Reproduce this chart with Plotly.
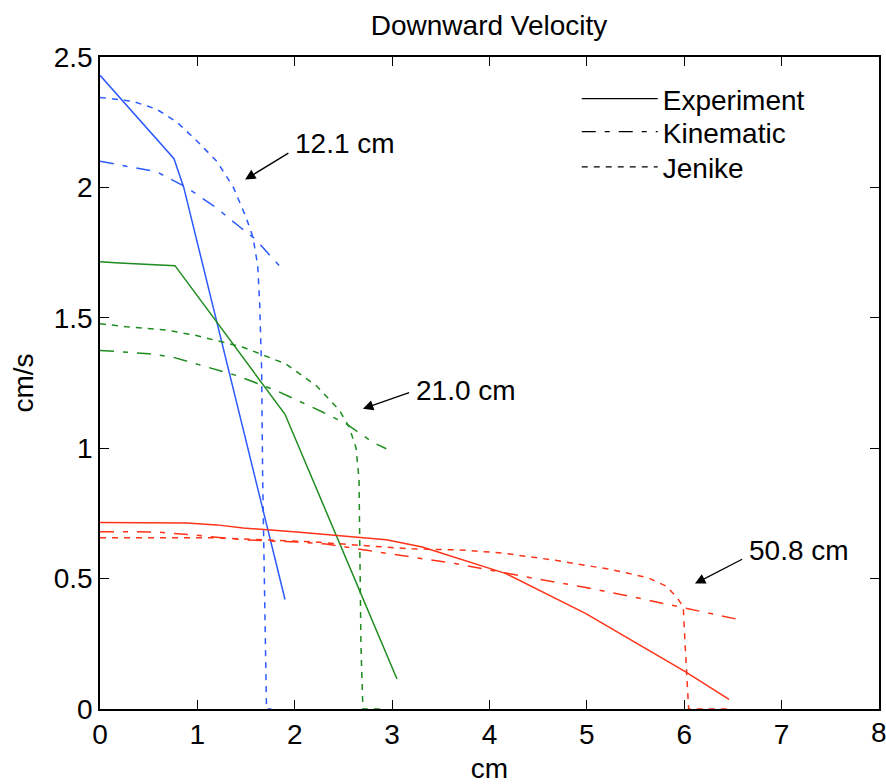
import plotly.graph_objects as go

# Radial profiles of downward velocity at three heights in the bin
# 12.1 cm (blue)
exp_x_121 = [0, 0.76, 0.86, 1.90]
exp_y_121 = [2.43, 2.11, 2.00, 0.42]
kin_x_121 = [0, 0.31, 0.58, 0.89, 1.20, 1.43, 1.60, 1.84]
kin_y_121 = [2.10, 2.08, 2.06, 2.00, 1.92, 1.85, 1.80, 1.70]
jen_x_121 = [0, 0.34, 0.58, 0.79, 0.99, 1.20, 1.37, 1.50, 1.57, 1.62, 1.64, 1.66, 1.67, 1.69, 1.71, 1.76]
jen_y_121 = [2.345, 2.33, 2.30, 2.25, 2.18, 2.10, 2.00, 1.885, 1.81, 1.70, 1.55, 1.30, 0.90, 0.50, 0.0, 0.0]

# 21.0 cm (green)
exp_x_210 = [0, 0.20, 0.77, 1.90, 3.05]
exp_y_210 = [1.715, 1.71, 1.70, 1.13, 0.115]
kin_x_210 = [0, 0.50, 0.75, 0.99, 1.40, 1.81, 2.29, 2.53, 2.80, 2.94]
kin_y_210 = [1.375, 1.362, 1.349, 1.323, 1.279, 1.221, 1.138, 1.093, 1.023, 0.998]
jen_x_210 = [0, 0.27, 0.68, 0.99, 1.47, 1.91, 2.22, 2.46, 2.56, 2.63, 2.66, 2.68, 2.70, 2.90]
jen_y_210 = [1.477, 1.466, 1.453, 1.432, 1.387, 1.323, 1.24, 1.145, 1.08, 1.0, 0.88, 0.24, 0.0, 0.0]

# 50.8 cm (red)
exp_x_508 = [0, 0.89, 1.20, 1.47, 2.02, 2.43, 2.94, 3.31, 4.07, 4.17, 4.99, 6.01, 6.46]
exp_y_508 = [0.715, 0.713, 0.706, 0.694, 0.679, 0.666, 0.649, 0.621, 0.532, 0.519, 0.366, 0.143, 0.037]
kin_x_508 = [0, 0.58, 0.99, 1.47, 2.02, 2.32, 2.80, 3.20, 3.66, 4.47, 4.99, 5.47, 5.87, 6.28, 6.56]
kin_y_508 = [0.68, 0.679, 0.666, 0.649, 0.64, 0.633, 0.605, 0.584, 0.557, 0.50, 0.466, 0.43, 0.398, 0.364, 0.343]
jen_x_508 = [0, 1.13, 1.67, 2.22, 2.80, 3.21, 3.69, 4.13, 4.68, 5.26, 5.63, 5.82, 5.93, 5.99, 6.01, 6.045, 6.50]
jen_y_508 = [0.657, 0.657, 0.649, 0.64, 0.624, 0.614, 0.61, 0.598, 0.57, 0.534, 0.503, 0.47, 0.425, 0.392, 0.238, 0.0, 0.0]

model_names = ["Experiment", "Kinematic", "Jenike"]
height_labels = ["12.1 cm", "21.0 cm", "50.8 cm"]
x_ticks = [0, 1, 2, 3, 4, 5, 6, 7, 8]

FONT = "Liberation Sans, Arial, sans-serif"
FS = 28
DASH = {"Experiment": "solid", "Kinematic": "14px,9px,5px,9px", "Jenike": "6px,6px"}
COLORS = ["#2c5aff", "#1e8c1e", "#ff3318"]

profiles = [
    [(exp_x_121, exp_y_121), (kin_x_121, kin_y_121), (jen_x_121, jen_y_121)],
    [(exp_x_210, exp_y_210), (kin_x_210, kin_y_210), (jen_x_210, jen_y_210)],
    [(exp_x_508, exp_y_508), (kin_x_508, kin_y_508), (jen_x_508, jen_y_508)],
]

fig = go.Figure()
for color, group in zip(COLORS, profiles):
    for name, (xs, ys) in zip(model_names, group):
        fig.add_trace(go.Scatter(
            x=xs, y=ys, mode="lines", showlegend=False, cliponaxis=False,
            line=dict(color=color, width=1.5, dash=DASH[name]),
        ))

# black key entries for the three models, one legend box per row for tight spacing
legend_ids = ["legend", "legend2", "legend3"]
legend_rows = [0.9356, 0.885, 0.831]
for name, lid in zip(model_names, legend_ids):
    fig.add_trace(go.Scatter(
        x=[None], y=[None], mode="lines", name=name, legend=lid,
        line=dict(color="black", width=1.2, dash=DASH[name]),
    ))

legend_style = dict(
    x=0.612, xanchor="left", yanchor="middle",
    bgcolor="rgba(0,0,0,0)", borderwidth=0, itemwidth=76,
    font=dict(family=FONT, size=FS, color="black"),
)

# arrows pointing at each height's profile group: (head_x, head_y, tail_x, tail_y)
arrow_spots = [(1.49, 2.03, 1.95, 2.135), (2.70, 1.151, 3.19, 1.215), (6.11, 0.481, 6.61, 0.577)]
label_lift = [0.035, 0.005, 0.03]
for label, (hx, hy, tx, ty), lift in zip(height_labels, arrow_spots, label_lift):
    fig.add_annotation(
        x=hx, y=hy, ax=tx, ay=ty, xref="x", yref="y", axref="x", ayref="y",
        text="", showarrow=True, arrowhead=2, arrowsize=1.6, arrowwidth=1.3,
        arrowcolor="black",
    )
    fig.add_annotation(
        x=tx + 0.03, y=ty + lift, xref="x", yref="y", text=label, showarrow=False,
        xanchor="left", yanchor="middle",
        font=dict(family=FONT, size=FS, color="black"),
    )

# the last x tick label sits on the figure edge, so it is written explicitly
fig.add_annotation(
    x=x_ticks[-1], y=0, xref="x", yref="y", text=str(x_ticks[-1]), showarrow=False,
    xanchor="center", yanchor="top", yshift=-6,
    font=dict(family=FONT, size=FS, color="black"),
)

axis_common = dict(
    showline=True, linecolor="black", linewidth=1.5, mirror="ticks",
    ticks="inside", ticklen=9, tickwidth=1.3, tickcolor="black",
    showgrid=False, zeroline=False,
    tickfont=dict(family=FONT, size=FS, color="black"),
)

fig.update_layout(
    width=886, height=784,
    margin=dict(l=100, r=5, t=57, b=75),
    paper_bgcolor="white", plot_bgcolor="white",
    title=dict(text="Downward Velocity", x=0.552, xanchor="center", y=0.968, yanchor="middle",
               font=dict(family=FONT, size=FS, color="black")),
    xaxis=dict(range=[0, 8], tickvals=x_ticks, title=dict(text="cm", standoff=9,
               font=dict(family=FONT, size=FS, color="black")), **axis_common),
    yaxis=dict(range=[0, 2.5], dtick=0.5, title=dict(text="cm/s", standoff=12,
               font=dict(family=FONT, size=FS, color="black")), **axis_common),
    legend=dict(y=legend_rows[0], **legend_style),
    legend2=dict(y=legend_rows[1], **legend_style),
    legend3=dict(y=legend_rows[2], **legend_style),
    showlegend=True,
)

fig.write_html("out.html")
